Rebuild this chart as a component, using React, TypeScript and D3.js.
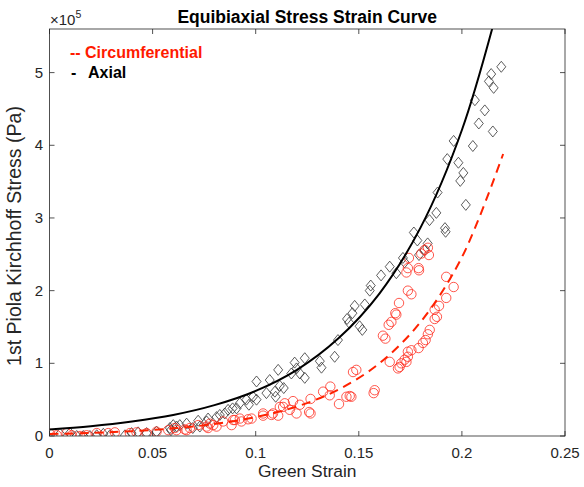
import React from "react";
import * as d3 from "d3";

const title = "Equibiaxial Stress Strain Curve";
const xLabel = "Green Strain";
const yLabel = "1st Piola Kirchhoff Stress (Pa)";
const xTicks = [0, 0.05, 0.1, 0.15, 0.2, 0.25];
const xTickLabels = ["0", "0.05", "0.1", "0.15", "0.2", "0.25"];
const yTicks = [0, 1, 2, 3, 4, 5];
const yTickLabels = ["0", "1", "2", "3", "4", "5"];
const legendMarks = ["--", "-"];
const legendNames = ["Circumferential", "Axial"];

// fitted curves (stress in 1e5 Pa)
const fitStrain = [0, 0.02, 0.04, 0.06, 0.08, 0.1, 0.12, 0.14, 0.16, 0.18, 0.2, 0.22];
const axialFit = [0.09, 0.135, 0.2, 0.29, 0.425, 0.62, 0.91, 1.34, 1.96, 2.87, 4.21, 6.17];
const circFit = [0.027, 0.043, 0.067, 0.105, 0.165, 0.26, 0.406, 0.637, 1.0, 1.57, 2.46, 3.88];

// axial measurements (strain, stress 1e5 Pa)
const axialStrain = [
  0.2191, 0.2142, 0.2131, 0.2154, 0.2063, 0.2111, 0.2082, 0.215, 0.196, 0.2053,
  0.1929, 0.1983, 0.2007, 0.1992, 0.1882, 0.2019, 0.1876, 0.1843, 0.1918, 0.1921,
  0.1767, 0.1784, 0.1834, 0.1819, 0.1792, 0.1714, 0.165, 0.1608, 0.1682, 0.1558,
  0.1553, 0.1529, 0.148, 0.1469, 0.1517, 0.1443, 0.1453, 0.1504, 0.1399, 0.1383,
  0.1311, 0.1319, 0.1238, 0.1189, 0.1198, 0.1214, 0.1238, 0.1173, 0.1109, 0.1068,
  0.1004, 0.1117, 0.1093, 0.1136, 0.1052, 0.1097, 0.0987, 0.0955, 0.1004, 0.0967,
  0.0923, 0.0907, 0.0888, 0.0866, 0.085, 0.0826, 0.081, 0.0769, 0.0721, 0.0762,
  0.0665, 0.0632, 0.06, 0.0589, 0.0616, 0.0584, 0.0519, 0.0471, 0.043, 0.0398,
  0.0366, 0.0293, 0.0261, 0.0229, 0.0196, 0.0164, 0.0132, 0.0099, 0.0051, 0.0729,
  0.0695, 0.1722,
];
const axialStress = [
  5.08, 4.98, 4.88, 4.79, 4.62, 4.48, 4.3, 4.19, 4.06, 3.99,
  3.81, 3.76, 3.62, 3.51, 3.35, 3.18, 3.07, 2.97, 2.86, 2.81,
  2.8, 2.69, 2.65, 2.56, 2.49, 2.45, 2.33, 2.21, 2.24, 2.07,
  2.0, 1.81, 1.79, 1.69, 1.46, 1.61, 1.56, 1.51, 1.32, 1.09,
  1.03, 0.94, 1.07, 1.01, 0.93, 0.86, 0.8, 0.86, 0.91, 0.77,
  0.75, 0.69, 0.61, 0.66, 0.59, 0.54, 0.54, 0.5, 0.5, 0.43,
  0.45, 0.38, 0.38, 0.36, 0.31, 0.29, 0.26, 0.24, 0.21, 0.2,
  0.17, 0.15, 0.15, 0.08, 0.13, 0.11, 0.06, 0.04, 0.05, 0.04,
  0.01, 0.01, 0.03, 0.01, 0.0, 0.0, 0.0, 0.04, 0.03, 0.13,
  0.11, 2.39,
];

// circumferential measurements
const circStrain = [
  0.1835, 0.1819, 0.184, 0.1803, 0.1743, 0.1738, 0.1731, 0.179, 0.1792, 0.1924,
  0.196, 0.1738, 0.1755, 0.1695, 0.1924, 0.1889, 0.1868, 0.1677, 0.1682, 0.1879,
  0.1868, 0.1658, 0.1645, 0.1844, 0.1835, 0.1617, 0.1629, 0.1824, 0.1811, 0.179,
  0.1755, 0.1738, 0.1738, 0.1722, 0.1731, 0.165, 0.1698, 0.169, 0.1488, 0.1472,
  0.1577, 0.1572, 0.1464, 0.1362, 0.1327, 0.1456, 0.144, 0.1404, 0.1266, 0.1259,
  0.1214, 0.1181, 0.1198, 0.1266, 0.1133, 0.1165, 0.1077, 0.1109, 0.1036, 0.098,
  0.0923, 0.0931, 0.0899, 0.0883, 0.0842, 0.081, 0.0778, 0.0769, 0.0721, 0.0681,
  0.0665, 0.0616, 0.0002, 0.0035, 0.0083, 0.0108, 0.0148, 0.018, 0.0229, 0.0285,
  0.0317, 0.039, 0.0422, 0.0471, 0.0519, 0.0576, 0.0608, 0.0656, 0.0762, 0.0794,
  0.0891, 0.0963, 0.1036, 0.1084, 0.1117, 0.1141, 0.1359, 0.1706,
];
const circStress = [
  2.59, 2.56, 2.49, 2.51, 2.45, 2.31, 2.25, 2.31, 2.28, 2.19,
  2.05, 2.0, 1.95, 1.83, 1.9, 1.79, 1.74, 1.69, 1.67, 1.64,
  1.61, 1.57, 1.53, 1.46, 1.4, 1.38, 1.34, 1.32, 1.28, 1.21,
  1.18, 1.16, 1.09, 1.05, 1.02, 1.02, 0.95, 0.93, 0.91, 0.88,
  0.63, 0.59, 0.54, 0.68, 0.61, 0.55, 0.54, 0.44, 0.51, 0.33,
  0.43, 0.48, 0.31, 0.31, 0.4, 0.36, 0.29, 0.28, 0.28, 0.24,
  0.24, 0.2, 0.22, 0.15, 0.2, 0.13, 0.17, 0.11, 0.15, 0.11,
  0.08, 0.08, 0.03, 0.01, 0.04, 0.01, 0.0, 0.01, 0.04, 0.04,
  0.05, 0.04, 0.05, 0.04, 0.06, 0.08, 0.11, 0.09, 0.13, 0.15,
  0.22, 0.23, 0.31, 0.31, 0.4, 0.45, 0.56, 1.0,
];

const W = 584;
const H = 487;
const M = { left: 49.5, right: 565, top: 29, bottom: 436 };
const FONT = "'Liberation Sans', Arial, Helvetica, sans-serif";
const AX = "#262626";

export default function App() {
  const x = d3.scaleLinear().domain([0, 0.25]).range([M.left, M.right]);
  const y = d3.scaleLinear().domain([0, 5.6]).range([M.bottom, M.top]);
  const line = d3
    .line<number>()
    .x((_, i) => x(fitStrain[i]))
    .y((d) => y(d))
    .curve(d3.curveCatmullRom);
  const tl = 5;
  const diamond = (cx: number, cy: number) =>
    `M${cx},${cy - 5.5}L${cx + 4.5},${cy}L${cx},${cy + 5.5}L${cx - 4.5},${cy}Z`;

  return (
    <svg
      width={W}
      height={H}
      style={{ position: "absolute", left: 0, top: 0, background: "#fff" }}
      fontFamily={FONT}
    >
      <defs>
        <clipPath id="plotclip">
          <rect x={M.left} y={M.top} width={M.right - M.left} height={M.bottom - M.top} />
        </clipPath>
      </defs>
      <rect x={0} y={0} width={W} height={H} fill="#fff" />

      {/* data */}
      <g clipPath="url(#plotclip)">
        {axialStrain.map((s, i) => (
          <path key={"a" + i} d={diamond(x(s), y(axialStress[i]))} fill="none" stroke="#333" strokeWidth={0.8} />
        ))}
        {circStrain.map((s, i) => (
          <circle key={"c" + i} cx={x(s)} cy={y(circStress[i])} r={4.7} fill="none" stroke="#ff2d1f" strokeWidth={0.8} />
        ))}
        <path d={line(circFit) || ""} fill="none" stroke="#ff2200" strokeWidth={2} strokeDasharray="9,6" />
        <path d={line(axialFit) || ""} fill="none" stroke="#000" strokeWidth={2} />
      </g>

      {/* box */}
      <rect
        x={M.left}
        y={M.top}
        width={M.right - M.left}
        height={M.bottom - M.top}
        fill="none"
        stroke={AX}
        strokeWidth={0.8}
      />
      {xTicks.map((t, i) => (
        <g key={"xt" + i}>
          <line x1={x(t)} x2={x(t)} y1={M.bottom} y2={M.bottom - tl} stroke={AX} strokeWidth={0.8} />
          <line x1={x(t)} x2={x(t)} y1={M.top} y2={M.top + tl} stroke={AX} strokeWidth={0.8} />
          <text x={x(t)} y={458} textAnchor="middle" fontSize={15} fill={AX}>
            {xTickLabels[i]}
          </text>
        </g>
      ))}
      {yTicks.map((t, i) => (
        <g key={"yt" + i}>
          <line x1={M.left} x2={M.left + tl} y1={y(t)} y2={y(t)} stroke={AX} strokeWidth={0.8} />
          <line x1={M.right} x2={M.right - tl} y1={y(t)} y2={y(t)} stroke={AX} strokeWidth={0.8} />
          <text x={43} y={y(t) + 5} textAnchor="end" fontSize={15} fill={AX}>
            {yTickLabels[i]}
          </text>
        </g>
      ))}

      {/* exponent */}
      <text x={50} y={25} fontSize={15} fill={AX}>
        ×10
        <tspan dy={-7} fontSize={10.5}>
          5
        </tspan>
      </text>

      {/* title */}
      <text x={(M.left + M.right) / 2} y={22.5} textAnchor="middle" fontSize={17.5} fontWeight="bold" fill="#000">
        {title}
      </text>

      {/* axis labels */}
      <text x={(M.left + M.right) / 2} y={477} textAnchor="middle" fontSize={17.4} fill={AX}>
        {xLabel}
      </text>
      <text
        transform={`translate(20.5,${236}) rotate(-90)`}
        textAnchor="middle"
        fontSize={19.5}
        fill={AX}
      >
        {yLabel}
      </text>

      {/* legend text */}
      <text y={58} fontSize={16} fontWeight="bold" fill="#ff1a00">
        <tspan x={70}>{legendMarks[0]}</tspan>
        <tspan x={85}>{legendNames[0]}</tspan>
      </text>
      <text y={78} fontSize={16} fontWeight="bold" fill="#000">
        <tspan x={71}>{legendMarks[1]}</tspan>
        <tspan x={88}>{legendNames[1]}</tspan>
      </text>
    </svg>
  );
}
